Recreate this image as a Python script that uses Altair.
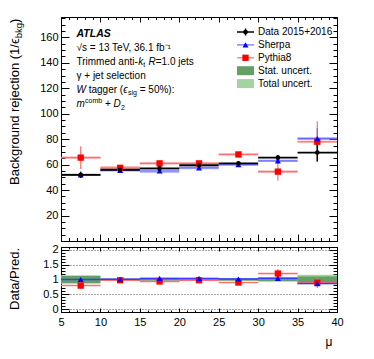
import altair as alt
import pandas as pd
import numpy as np

# ---------------- data ----------------
bin_lo = [5, 10, 15, 20, 25, 30, 35]
bin_hi = [10, 15, 20, 25, 30, 35, 40]

data_val = [52.0, 56.0, 57.0, 59.5, 61.0, 65.5, 69.5]
data_err = [2.5, 1.5, 1.5, 1.5, 1.5, 2.0, 7.0]

sherpa_val = [52.0, 55.5, 55.0, 57.5, 60.0, 63.0, 80.5]
sherpa_err = [1.0, 1.0, 1.0, 1.0, 1.0, 1.5, 8.0]
sherpa_band = [1.0, 1.0, 1.5, 1.2, 1.0, 1.0, 1.2]

pythia_val = [65.5, 57.5, 61.0, 61.0, 68.0, 54.5, 78.0]
pythia_err = [9.0, 2.0, 1.5, 1.5, 2.0, 7.0, 16.0]
pythia_band = [1.0, 1.5, 1.0, 1.0, 1.0, 1.0, 1.0]

stat_rel = [0.12, 0.025, 0.03, 0.03, 0.03, 0.05, 0.10]
total_rel = [0.14, 0.035, 0.045, 0.04, 0.045, 0.08, 0.16]

x_major = [5, 10, 15, 20, 25, 30, 35, 40]
x_minor = list(range(5, 41))
y_top_major = [0, 20, 40, 60, 80, 100, 120, 140, 160]
y_top_labels = [20, 40, 60, 80, 100, 120, 140, 160]
y_top_minor = list(range(0, 176, 5))
y_rat_major = [0, 0.5, 1, 1.5, 2]
y_rat_minor = [round(v, 2) for v in np.arange(-0.1, 2.101, 0.1)]

legend_labels = ["Data 2015+2016", "Sherpa", "Pythia8", "Stat. uncert.", "Total uncert."]

atlas_txt = "ATLAS"
energy_txt = "√s = 13 TeV, 36.1 fb⁻¹"
jets_txt = ["Trimmed anti-", "k", "t", "R", "=1.0 jets"]
sel_txt = "γ + jet selection"
tagger_txt = ["W", "tagger (", "ϵ", "sig", "= 50%):"]
vars_txt = ["m", "comb", "+", "D", "2"]
ytitle_txt = ["Background rejection (1/ϵ", "bkg", ")"]
rtitle_txt = "Data/Pred."
xtitle_txt = "μ"

FONT = "Liberation Sans"
W = 276
H_TOP = 224
H_RAT = 65

# ---------------- tables ----------------
def series_df(vals, errs, band):
    return pd.DataFrame({
        "lo": bin_lo, "hi": bin_hi,
        "mid": [(a + b) / 2 for a, b in zip(bin_lo, bin_hi)],
        "val": vals,
        "elo": [v - e for v, e in zip(vals, errs)],
        "ehi": [v + e for v, e in zip(vals, errs)],
        "blo": [v - e for v, e in zip(vals, band)],
        "bhi": [v + e for v, e in zip(vals, band)],
    })

def ratio_df(mc, mcerr, mcband):
    r = [d / m for d, m in zip(data_val, mc)]
    re = [ri * e / m for ri, e, m in zip(r, mcerr, mc)]
    rb = [ri * e / m for ri, e, m in zip(r, mcband, mc)]
    return series_df(r, re, rb)

d_data = series_df(data_val, data_err, data_err)
d_sh = series_df(sherpa_val, sherpa_err, sherpa_band)
d_py = series_df(pythia_val, pythia_err, pythia_band)
r_sh = ratio_df(sherpa_val, sherpa_err, sherpa_band)
r_py = ratio_df(pythia_val, pythia_err, pythia_band)
d_unc = pd.DataFrame({
    "lo": bin_lo, "hi": bin_hi,
    "slo": [1 - s for s in stat_rel], "shi": [1 + s for s in stat_rel],
    "tlo": [1 - t for t in total_rel], "thi": [1 + t for t in total_rel],
})
leg = pd.DataFrame({"label": legend_labels, "row": list(range(len(legend_labels)))})
one = pd.DataFrame({"a": [0]})

XS = alt.Scale(domain=[5, 40], nice=False, zero=False)
YS_TOP = alt.Scale(domain=[0, 176], nice=False, zero=False)
YS_RAT = alt.Scale(domain=[-0.1, 2.1], nice=False, zero=False)

BLACK = "#000000"
BLUE = "#0000ff"
BLUE_L = "#6a6aff"
RED = "#ff0000"
RED_L = "#ff6f6f"
GREEN_D = "#64a064"
GREEN_L = "#a3d39e"


def tick_axis(orient, values, size):
    return alt.Axis(orient=orient, values=values, tickSize=size, offset=-size,
                    labels=False, domain=False, grid=False, ticks=True, title=None,
                    tickColor="black", tickWidth=1)


def label_axis(orient, values, pad=3, fmt=None, grid=False):
    kw = dict(orient=orient, values=values, tickSize=0, ticks=False, labels=True,
              labelPadding=pad, domain=False, grid=grid, title=None, labelFont=FONT,
              labelFontSize=11, labelColor="black", labelFlush=False, labelOverlap=False)
    if fmt:
        kw["format"] = fmt
    if grid:
        kw.update(gridDash=[1, 2], gridColor="#555555", gridWidth=1)
    return alt.Axis(**kw)


def text(t, x, y, size=10, style="normal", weight="normal", dx=0, dy=0,
         angle=0, align="left", baseline="alphabetic"):
    return alt.Chart(one).mark_text(
        text=t, font=FONT, fontSize=size, fontStyle=style, fontWeight=weight,
        dx=dx, dy=dy, angle=angle, align=align, baseline=baseline, color="black"
    ).encode(x=alt.value(x), y=alt.value(y))


def build(specs, xaxes, yaxes, xs, ys):
    layers = []
    for i, f in enumerate(specs):
        xa = xaxes[i] if i < len(xaxes) else None
        ya = yaxes[i] if i < len(yaxes) else None
        X = lambda fld, a=xa: alt.X(fld, type="quantitative", scale=xs, axis=a, title=None)
        Y = lambda fld, a=ya: alt.Y(fld, type="quantitative", scale=ys, axis=a, title=None)
        layers.append(f(X, Y))
    return layers

# ---------------- top panel ----------------
top_specs = [
    lambda X, Y: alt.Chart(d_sh).mark_rect(color=BLUE_L, opacity=0.45).encode(x=X("lo"), x2="hi", y=Y("blo"), y2="bhi"),
    lambda X, Y: alt.Chart(d_py).mark_rect(color=RED_L, opacity=0.45).encode(x=X("lo"), x2="hi", y=Y("blo"), y2="bhi"),
    lambda X, Y: alt.Chart(d_py).mark_rule(color=RED_L, strokeWidth=1.2).encode(x=X("lo"), x2="hi", y=Y("val")),
    lambda X, Y: alt.Chart(d_py).mark_rule(color=RED_L, strokeWidth=1.2).encode(x=X("mid"), y=Y("elo"), y2="ehi"),
    lambda X, Y: alt.Chart(d_sh).mark_rule(color=BLUE_L, strokeWidth=1.2).encode(x=X("lo"), x2="hi", y=Y("val")),
    lambda X, Y: alt.Chart(d_sh).mark_rule(color=BLUE_L, strokeWidth=1.2).encode(x=X("mid"), y=Y("elo"), y2="ehi"),
    lambda X, Y: alt.Chart(d_data).mark_rule(color=BLACK, strokeWidth=1.8).encode(x=X("lo"), x2="hi", y=Y("val")),
    lambda X, Y: alt.Chart(d_data).mark_rule(color=BLACK, strokeWidth=1.5).encode(x=X("mid"), y=Y("elo"), y2="ehi"),
    lambda X, Y: alt.Chart(d_py).mark_point(shape="square", filled=True, size=40, color=RED, opacity=1).encode(x=X("mid"), y=Y("val")),
    lambda X, Y: alt.Chart(d_sh).mark_point(shape="triangle-up", filled=True, size=36, color=BLUE, opacity=1).encode(x=X("mid"), y=Y("val")),
    lambda X, Y: alt.Chart(d_data).mark_point(shape="circle", filled=True, size=22, color=BLACK, opacity=1).encode(x=X("mid"), y=Y("val")),
]
top_xaxes = [tick_axis("bottom", x_major, 7), tick_axis("bottom", x_minor, 3.5),
             tick_axis("top", x_major, 5), tick_axis("top", x_minor, 2.5)]
top_yaxes = [label_axis("left", y_top_labels, pad=3),
             tick_axis("left", y_top_major, 8), tick_axis("left", y_top_minor, 4),
             tick_axis("right", y_top_major, 8), tick_axis("right", y_top_minor, 4)]

top_layers = build(top_specs, top_xaxes, top_yaxes, XS, YS_TOP)

# legend
LX0, LX1, LXM, LXT = 176, 193, 184.5, 197
legb = alt.Chart(leg).transform_calculate(ly="15 + 12.9*datum.row",
                                          lt="15 + 12.9*datum.row - 4.5",
                                          lb="15 + 12.9*datum.row + 4.5",
                                          vt="15 + 12.9*datum.row - 3.5",
                                          vb="15 + 12.9*datum.row + 3.5")
LY = lambda f: alt.Y(f, type="quantitative", scale=None, axis=None)
legend_layers = [
    legb.transform_filter("datum.row == 3").mark_rect(color=GREEN_D).encode(x=alt.value(LX0), x2=alt.value(LX1), y=LY("lt"), y2=alt.Y2("lb")),
    legb.transform_filter("datum.row == 4").mark_rect(color=GREEN_L).encode(x=alt.value(LX0), x2=alt.value(LX1), y=LY("lt"), y2=alt.Y2("lb")),
    legb.transform_filter("datum.row == 0").mark_rule(color=BLACK, strokeWidth=1.5).encode(x=alt.value(LX0), x2=alt.value(LX1), y=LY("ly")),
    legb.transform_filter("datum.row == 0").mark_rule(color=BLACK, strokeWidth=1.5).encode(x=alt.value(LXM), y=LY("vt"), y2=alt.Y2("vb")),
    legb.transform_filter("datum.row == 1").mark_rule(color=BLUE_L, strokeWidth=1.2).encode(x=alt.value(LX0), x2=alt.value(LX1), y=LY("ly")),
    legb.transform_filter("datum.row == 2").mark_rule(color=RED_L, strokeWidth=1.2).encode(x=alt.value(LX0), x2=alt.value(LX1), y=LY("ly")),
    legb.transform_filter("datum.row == 0").mark_point(shape="circle", filled=True, size=22, color=BLACK, opacity=1).encode(x=alt.value(LXM), y=LY("ly")),
    legb.transform_filter("datum.row == 1").mark_point(shape="triangle-up", filled=True, size=36, color=BLUE, opacity=1).encode(x=alt.value(LXM), y=LY("ly")),
    legb.transform_filter("datum.row == 2").mark_point(shape="square", filled=True, size=40, color=RED, opacity=1).encode(x=alt.value(LXM), y=LY("ly")),
    legb.mark_text(align="left", baseline="middle", font=FONT, fontSize=10, color="black").encode(x=alt.value(LXT), y=LY("ly"), text="label:N"),
]

# annotations
TX = 15.5
b0, dl = 19.5, 14.1
ann = [
    text(atlas_txt, TX, b0, size=10.5, style="italic", weight="bold"),
    text(energy_txt, TX, b0 + dl),
    text(jets_txt[0], TX, b0 + 2 * dl),
    text(jets_txt[1], TX + 61.7, b0 + 2 * dl, style="italic"),
    text(jets_txt[2], TX + 66.7, b0 + 2 * dl, size=7, dy=2.5),
    text(jets_txt[3], TX + 72.0, b0 + 2 * dl, style="italic"),
    text(jets_txt[4], TX + 79.2, b0 + 2 * dl),
    text(sel_txt, TX, b0 + 3 * dl),
    text(tagger_txt[0], TX, b0 + 4 * dl, style="italic"),
    text(tagger_txt[1], TX + 12.2, b0 + 4 * dl),
    text(tagger_txt[2], TX + 46.7, b0 + 4 * dl, style="italic"),
    text(tagger_txt[3], TX + 51.4, b0 + 4 * dl, size=7, dy=2.5),
    text(tagger_txt[4], TX + 63.2, b0 + 4 * dl),
    text(vars_txt[0], TX, b0 + 5 * dl, style="italic"),
    text(vars_txt[1], TX + 8.6, b0 + 5 * dl, size=7, dy=-4),
    text(vars_txt[2], TX + 28.5, b0 + 5 * dl),
    text(vars_txt[3], TX + 37.1, b0 + 5 * dl, style="italic"),
    text(vars_txt[4], TX + 44.4, b0 + 5 * dl, size=7, dy=2.5),
]

# y title (rotated)
YTX, YTY = -41.6, 168
ytitle = [
    text(ytitle_txt[0], YTX, YTY, size=13, angle=270),
    text(ytitle_txt[1], YTX, YTY, size=9.5, angle=270, dx=146.7, dy=3),
    text(ytitle_txt[2], YTX, YTY, size=13, angle=270, dx=162),
]

top = alt.layer(*top_layers, *legend_layers, *ann, *ytitle).resolve_axis(
    x="independent", y="independent").properties(width=W, height=H_TOP)

# ---------------- ratio panel ----------------
rat_specs = [
    lambda X, Y: alt.Chart(d_unc).mark_rect(color=GREEN_L).encode(x=X("lo"), x2="hi", y=Y("tlo"), y2="thi"),
    lambda X, Y: alt.Chart(d_unc).mark_rect(color=GREEN_D).encode(x=X("lo"), x2="hi", y=Y("slo"), y2="shi"),
    lambda X, Y: alt.Chart(r_py).mark_rect(color=RED_L, opacity=0.5).encode(x=X("lo"), x2="hi", y=Y("blo"), y2="bhi"),
    lambda X, Y: alt.Chart(r_py).mark_rule(color=RED_L, strokeWidth=1.5).encode(x=X("lo"), x2="hi", y=Y("val")),
    lambda X, Y: alt.Chart(r_py).mark_rule(color=RED_L, strokeWidth=1.2).encode(x=X("mid"), y=Y("elo"), y2="ehi"),
    lambda X, Y: alt.Chart(r_sh).mark_rect(color=BLUE_L, opacity=0.5).encode(x=X("lo"), x2="hi", y=Y("blo"), y2="bhi"),
    lambda X, Y: alt.Chart(r_sh).mark_rule(color="#3a3aff", strokeWidth=1.5).encode(x=X("lo"), x2="hi", y=Y("val")),
    lambda X, Y: alt.Chart(r_sh).mark_rule(color=BLUE_L, strokeWidth=1.2).encode(x=X("mid"), y=Y("elo"), y2="ehi"),
    lambda X, Y: alt.Chart(r_py).mark_point(shape="square", filled=True, size=40, color=RED, opacity=1).encode(x=X("mid"), y=Y("val")),
    lambda X, Y: alt.Chart(r_sh).mark_point(shape="triangle-up", filled=True, size=36, color=BLUE, opacity=1).encode(x=X("mid"), y=Y("val")),
]
rat_xaxes = [label_axis("bottom", x_major, pad=4),
             tick_axis("bottom", x_major, 4), tick_axis("bottom", x_minor, 2),
             tick_axis("top", x_major, 4), tick_axis("top", x_minor, 2)]
rat_yaxes = [label_axis("left", y_rat_major, pad=3, fmt="~g", grid=True),
             tick_axis("left", y_rat_major, 8), tick_axis("left", y_rat_minor, 4),
             tick_axis("right", y_rat_major, 8), tick_axis("right", y_rat_minor, 4)]
rat_layers = build(rat_specs, rat_xaxes, rat_yaxes, XS, YS_RAT)

rat_text = [
    text(rtitle_txt, -41.6, 63, size=13, angle=270),
    text(xtitle_txt, 268, 99, size=12, align="center"),
]

bottom = alt.layer(*rat_layers, *rat_text).resolve_axis(
    x="independent", y="independent").properties(width=W, height=H_RAT)

chart = alt.vconcat(top, bottom, spacing=6, bounds="flush").properties(
    padding={"left": 0, "top": 8, "right": 5, "bottom": 0}
).configure_view(stroke="black", strokeWidth=1)

chart.save("out.html", embed_options={"renderer": "svg", "actions": False})
